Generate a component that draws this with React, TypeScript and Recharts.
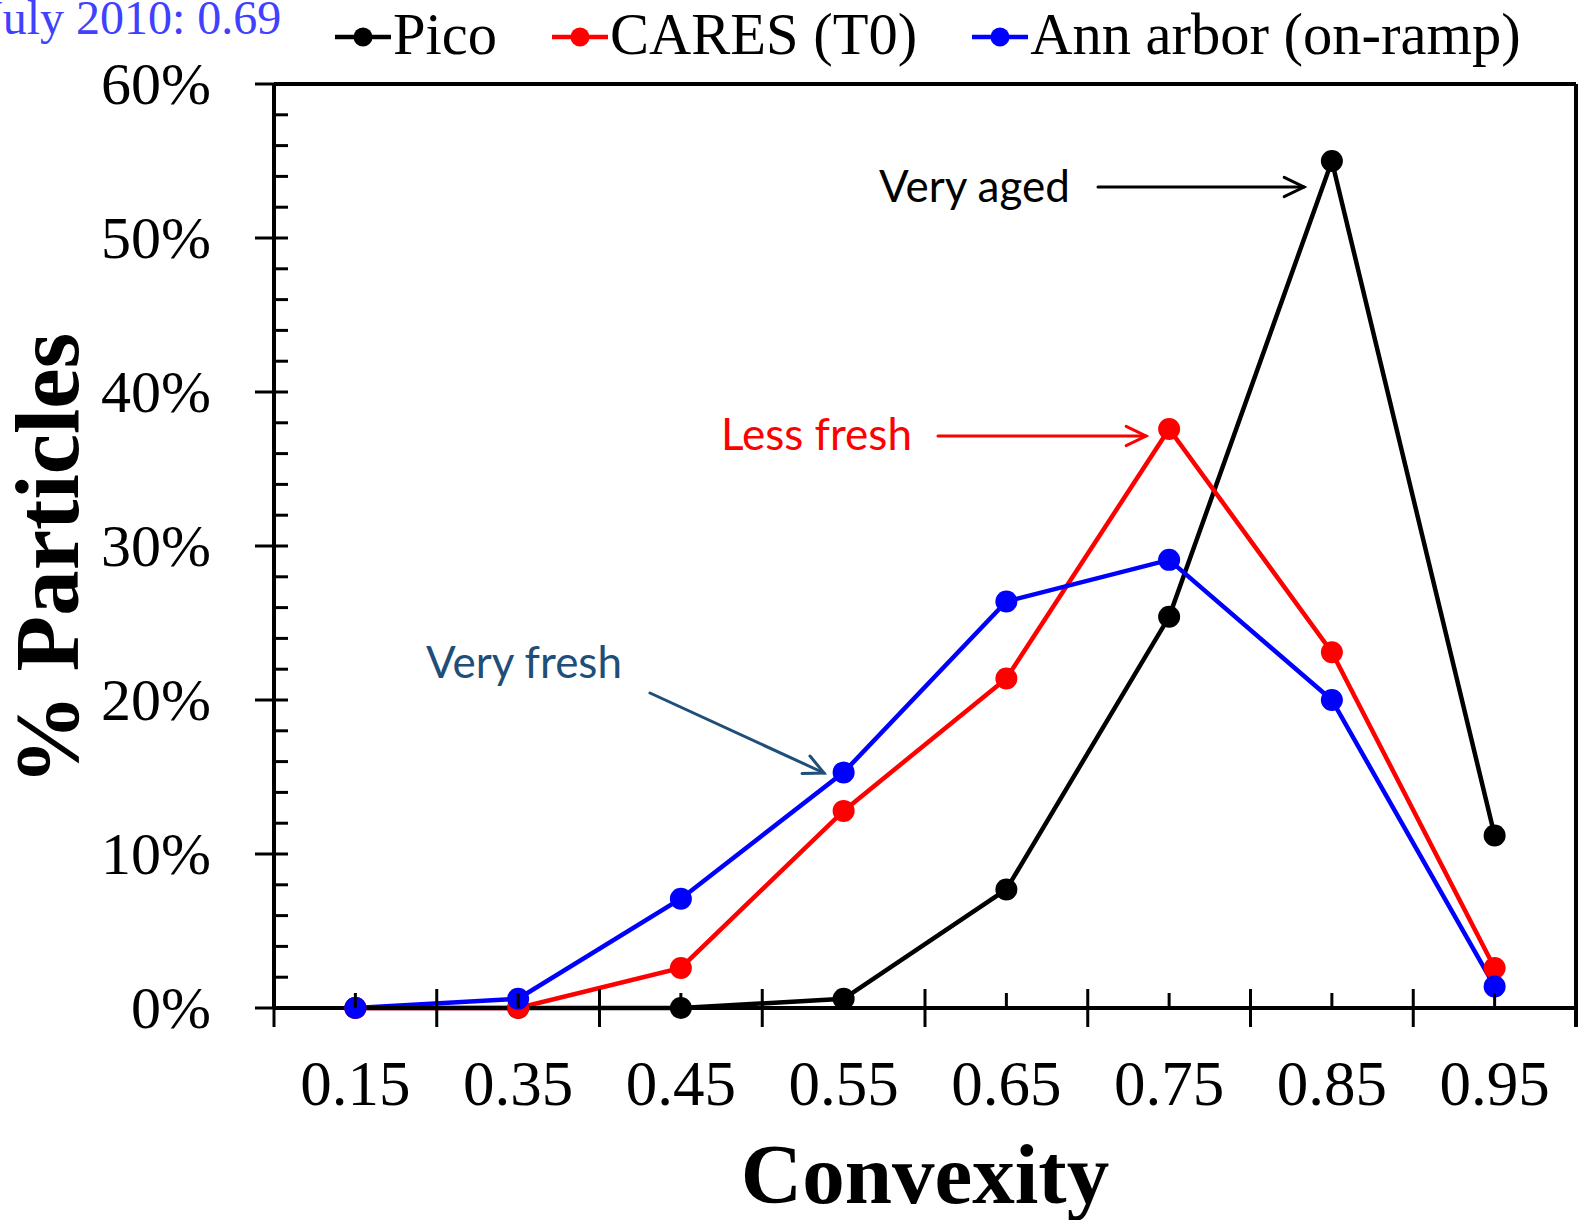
import { LineChart, Line, XAxis, YAxis, ReferenceLine } from 'recharts';

// convexity bins
const categories = ['0.15', '0.35', '0.45', '0.55', '0.65', '0.75', '0.85', '0.95'];
// % particles per bin
const pico = [0, 0, 0, 0.6, 7.7, 25.4, 55.0, 11.2];
const cares = [0, 0, 2.6, 12.8, 21.4, 37.6, 23.1, 2.6];
const annArbor = [0, 0.6, 7.1, 15.3, 26.4, 29.1, 20.0, 1.4];
const yTicks = [0, 2, 4, 6, 8, 10, 12, 14, 16, 18, 20, 22, 24, 26, 28, 30, 32, 34, 36, 38, 40, 42, 44, 46, 48, 50, 52, 54, 56, 58, 60];

const W = 1579;
const H = 1220;
const PLOT_LEFT = 274;
const PLOT_RIGHT = 1576;
const PLOT_TOP = 84;
const PLOT_BOTTOM = 1008;
const BAND = (PLOT_RIGHT - PLOT_LEFT) / categories.length;
const SERIF = '"Liberation Serif", "Times New Roman", serif';
const SANS = 'Lato, "Open Sans", sans-serif';
const AXIS_W = 4;

const series = [
  { key: 'pico', name: 'Pico', color: '#000000' },
  { key: 'cares', name: 'CARES (T0)', color: '#ff0000' },
  { key: 'ann', name: 'Ann arbor (on-ramp)', color: '#0000ff' },
];

const data = categories.map((c, i) => ({
  conv: c,
  pico: pico[i],
  cares: cares[i],
  ann: annArbor[i],
}));

function XTick(props: any) {
  const { x, y, payload, index } = props;
  const left = x - BAND / 2;
  const last = index === categories.length - 1;
  return (
    <g>
      <line x1={left} x2={left} y1={y - 19} y2={y + 19} stroke="#000" strokeWidth={3} />
      {last && (
        // right frame edge, running down past the axis like the other major ticks
        <line
          x1={x + BAND / 2}
          x2={x + BAND / 2}
          y1={y - (PLOT_BOTTOM - PLOT_TOP)}
          y2={y + 19}
          stroke="#000"
          strokeWidth={AXIS_W}
        />
      )}
      <line x1={x} x2={x} y1={y - 15} y2={y} stroke="#000" strokeWidth={3} />
      <text x={x} y={y + 97} textAnchor="middle" fontFamily={SERIF} fontSize={63} fill="#000">
        {payload.value}
      </text>
    </g>
  );
}

function YTick(props: any) {
  const { x, y, payload } = props;
  const major = payload.value % 10 === 0;
  if (!major) {
    return <line x1={x} x2={x + 14} y1={y} y2={y} stroke="#000" strokeWidth={3} />;
  }
  return (
    <g>
      <line x1={x - 19} x2={x + 14} y1={y} y2={y} stroke="#000" strokeWidth={3} />
      <text x={x - 63} y={y + 20} textAnchor="end" fontFamily={SERIF} fontSize={60} fill="#000">
        {`${payload.value}%`}
      </text>
    </g>
  );
}

function Arrow({ x1, y1, x2, y2, color }: { x1: number; y1: number; x2: number; y2: number; color: string }) {
  const a = Math.atan2(y2 - y1, x2 - x1);
  const len = 22;
  const spread = 0.45;
  const hx1 = x2 - len * Math.cos(a - spread);
  const hy1 = y2 - len * Math.sin(a - spread);
  const hx2 = x2 - len * Math.cos(a + spread);
  const hy2 = y2 - len * Math.sin(a + spread);
  return (
    <g stroke={color} strokeWidth={3} fill="none" strokeLinecap="round">
      <line x1={x1} y1={y1} x2={x2} y2={y2} />
      <polyline points={`${hx1},${hy1} ${x2},${y2} ${hx2},${hy2}`} />
    </g>
  );
}

export default function App() {
  return (
    <div style={{ position: 'absolute', left: 0, top: 0, width: W, height: H, background: '#fff' }}>
      <LineChart width={W} height={H} data={data} margin={{ top: PLOT_TOP, right: W - PLOT_RIGHT, bottom: 0, left: 0 }}>
        <XAxis
          dataKey="conv"
          scale="band"
          interval={0}
          height={H - PLOT_BOTTOM}
          tickSize={0}
          tickMargin={0}
          tickLine={false}
          axisLine={{ stroke: '#000', strokeWidth: AXIS_W }}
          tick={<XTick />}
        />
        <YAxis
          type="number"
          domain={[0, 60]}
          ticks={yTicks}
          interval={0}
          width={PLOT_LEFT}
          tickSize={0}
          tickMargin={0}
          tickLine={false}
          axisLine={{ stroke: '#000', strokeWidth: AXIS_W }}
          tick={<YTick />}
        />
        <ReferenceLine y={60} stroke="#000" strokeWidth={AXIS_W} />
        {series.map((s) => (
          <Line
            key={s.key}
            dataKey={s.key}
            name={s.name}
            type="linear"
            stroke={s.color}
            strokeWidth={4.5}
            dot={{ r: 11, fill: s.color, stroke: s.color, strokeWidth: 0 }}
            activeDot={false}
            isAnimationActive={false}
          />
        ))}
      </LineChart>

      {/* legend */}
      <div style={{ position: 'absolute', left: 335, top: 6, display: 'flex', alignItems: 'flex-start' }}>
        {series.map((s) => (
          <div key={s.key} style={{ display: 'flex', alignItems: 'flex-start', marginRight: 55 }}>
            <svg width={56} height={58} style={{ display: 'block' }}>
              <line x1={0} x2={56} y1={31} y2={31} stroke={s.color} strokeWidth={4.5} />
              <circle cx={28} cy={31} r={9.5} fill={s.color} />
            </svg>
            <span style={{ fontFamily: SERIF, fontSize: 58.5, lineHeight: '58px', marginLeft: 2, whiteSpace: 'nowrap' }}>
              {s.name}
            </span>
          </div>
        ))}
      </div>

      {/* titles and annotations */}
      <svg width={W} height={H} style={{ position: 'absolute', left: 0, top: 0, pointerEvents: 'none' }}>
        <text x={-16} y={34} fontFamily={SERIF} fontSize={48} fill="#4040ff">July 2010: 0.69</text>
        <text
          x={78}
          y={559}
          transform="rotate(-90, 78, 559)"
          textAnchor="middle"
          fontFamily={SERIF}
          fontSize={91}
          fontWeight="bold"
          fill="#000"
        >
          % Particles
        </text>
        <text x={925} y={1203} textAnchor="middle" fontFamily={SERIF} fontSize={85} fontWeight="bold" fill="#000">
          Convexity
        </text>

        <text x={879} y={202} fontFamily={SANS} fontSize={44} fill="#000">Very aged</text>
        <Arrow x1={1098} y1={187} x2={1304} y2={187} color="#000" />

        <text x={721} y={450} fontFamily={SANS} fontSize={44} fill="#ff0000">Less fresh</text>
        <Arrow x1={938} y1={436} x2={1146} y2={436} color="#ff0000" />

        <text x={426} y={678} fontFamily={SANS} fontSize={44} fill="#1f4e79">Very fresh</text>
        <Arrow x1={650} y1={693} x2={824} y2={773} color="#1f4e79" />
      </svg>
    </div>
  );
}
